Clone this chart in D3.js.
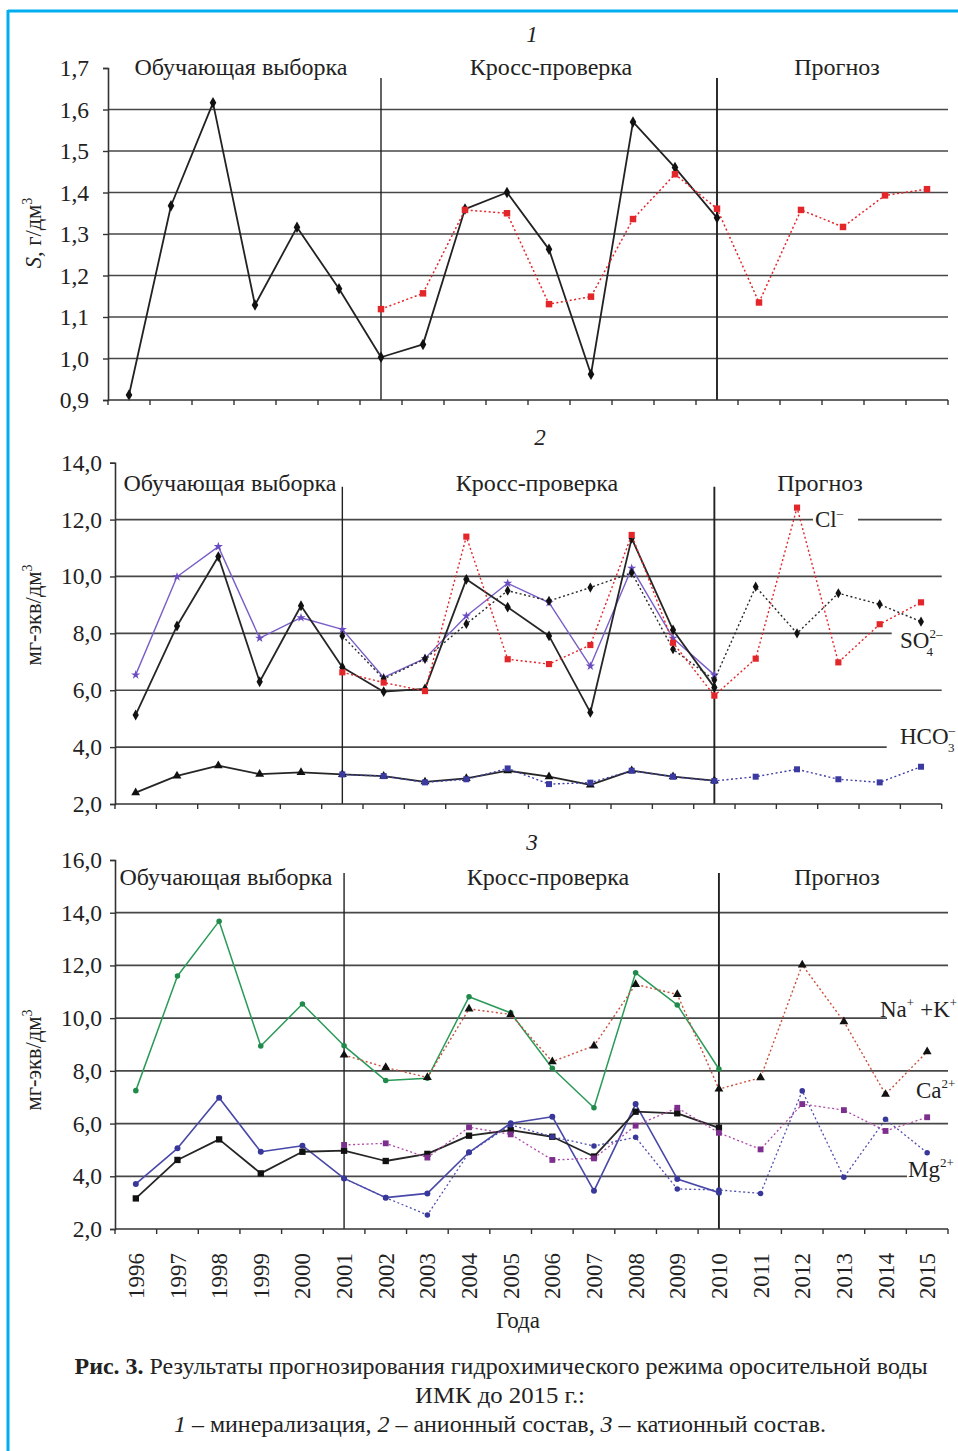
<!DOCTYPE html>
<html>
<head>
<meta charset="utf-8">
<script src="https://cdn.jsdelivr.net/npm/d3@7"></script>
<style>
  html, body { margin: 0; padding: 0; background: #fff; }
  svg { display: block; font-family: "Liberation Serif", "Times New Roman", serif; }
</style>
</head>
<body>
<svg id="chart" width="958" height="1451"></svg>
<script>
const years = ['1996', '1997', '1998', '1999', '2000', '2001', '2002', '2003', '2004', '2005',
  '2006', '2007', '2008', '2009', '2010', '2011', '2012', '2013', '2014', '2015']

const sections = ['Обучающая выборка', 'Кросс-проверка', 'Прогноз']

// 1 – минерализация, г/дм3
const sTicks = [0.9, 1.0, 1.1, 1.2, 1.3, 1.4, 1.5, 1.6, 1.7]
const sActual = [0.912, 1.368, 1.616, 1.129, 1.316, 1.168, 1.003, 1.034, 1.36, 1.40,
  1.263, 0.962, 1.57, 1.46, 1.339, null, null, null, null, null]
const sForecast = [null, null, null, null, null, null, 1.119, 1.157, 1.358, 1.35,
  1.131, 1.149, 1.336, 1.444, 1.361, 1.135, 1.358, 1.317, 1.393, 1.408]

// 2 – анионный состав, мг-экв/дм3
const anionTicks = [2, 4, 6, 8, 10, 12, 14]
const clActual = [5.13, 8.26, 10.70, 6.30, 8.97, 6.81, 5.95, 6.05, 9.90, 8.92,
  7.91, 5.22, 11.34, 8.12, 6.10, null, null, null, null, null]
const clForecast = [null, null, null, null, null, 6.63, 6.27, 5.97, 11.40, 7.09,
  6.92, 7.59, 11.46, 7.67, 5.81, 7.11, 12.42, 6.98, 8.32, 9.09]
const so4Actual = [6.54, 9.99, 11.05, 7.83, 8.55, 8.14, 6.45, 7.12, 8.61, 9.76,
  9.08, 6.85, 10.29, 7.83, 6.54, null, null, null, null, null]
const so4Forecast = [null, null, null, null, null, 7.91, 6.40, 7.10, 8.33, 9.50,
  9.14, 9.61, 10.13, 7.44, 6.36, 9.64, 8.00, 9.41, 9.02, 8.41]
const hco3Actual = [2.40, 2.99, 3.35, 3.05, 3.11, 3.04, 2.98, 2.78, 2.90, 3.17,
  2.96, 2.67, 3.17, 2.96, 2.82, null, null, null, null, null]
const hco3Forecast = [null, null, null, null, null, 3.04, 2.98, 2.76, 2.87, 3.25,
  2.70, 2.75, 3.17, 2.96, 2.81, 2.96, 3.22, 2.87, 2.76, 3.31]

// 3 – катионный состав, мг-экв/дм3
const cationTicks = [2, 4, 6, 8, 10, 12, 14, 16]
const nakActual = [7.25, 11.60, 13.68, 8.94, 10.54, 8.95, 7.63, 7.72, 10.81, 10.20,
  8.10, 6.60, 11.72, 10.50, 8.07, null, null, null, null, null]
const nakForecast = [null, null, null, null, null, 8.60, 8.13, 7.75, 10.35, 10.14,
  8.35, 8.95, 11.28, 10.90, 7.31, 7.74, 12.02, 9.87, 7.11, 8.73]
const caActual = [3.16, 4.62, 5.40, 4.11, 4.93, 4.97, 4.58, 4.85, 5.54, 5.75,
  5.50, 4.75, 6.45, 6.39, 5.84, null, null, null, null, null]
const caForecast = [null, null, null, null, null, 5.19, 5.25, 4.71, 5.86, 5.59,
  4.62, 4.68, 5.92, 6.60, 5.65, 5.02, 6.74, 6.51, 5.72, 6.24]
const mgActual = [3.71, 5.06, 6.98, 4.93, 5.16, 3.92, 3.19, 3.35, 4.91, 6.01,
  6.26, 3.45, 6.74, 3.90, 3.38, null, null, null, null, null]
const mgForecast = [null, null, null, null, null, 3.92, 3.19, 2.53, 4.90, 5.95,
  5.50, 5.15, 5.48, 3.52, 3.48, 3.35, 7.24, 3.96, 6.16, 4.89]

const svg = d3.select('#chart')
const GRID = '#474747'
const INK = '#222'
const fmt = v => d3.format('.1f')(v).replace('.', ',')

// frame of the journal page (top and left only)
svg.append('line').attr('x1', 8).attr('x2', 958).attr('y1', 11).attr('y2', 11)
  .attr('stroke', '#00aeef').attr('stroke-width', 3)
svg.append('line').attr('x1', 8).attr('x2', 8).attr('y1', 10).attr('y2', 1451)
  .attr('stroke', '#00aeef').attr('stroke-width', 3)

const panels = [
  {
    num: '1', titleX: 532, x0: 108, x1: 948, yTop: 68, yBot: 400, ticks: sTicks, tickPad: 14,
    grid: [{ v: 1.0 }, { v: 1.1 }, { v: 1.2 }, { v: 1.3 }, { v: 1.4 }, { v: 1.5 }, { v: 1.6 }],
    dividers: ['2002', '2010'], divTop: 78,
    titleY: 42, secY: 75, secX: [241, 551, 837],
    yLabel: 's', yLabelY: 233,
    series: [
      { data: sActual, color: '#222', width: 1.8, symbol: d3.symbolDiamond, size: 38, fill: '#111' },
      { data: sForecast, color: '#e3262a', width: 1.5, dash: '2,2.5', symbol: d3.symbolSquare, size: 42, fill: '#e3262a' }
    ],
    labels: []
  },
  {
    num: '2', titleX: 540, x0: 115, x1: 941.7, yTop: 462.7, yBot: 804, ticks: anionTicks, tickPad: 8,
    grid: [
      { v: 12, segs: [[115, 813], [858, 941.7]] },
      { v: 10 }, { v: 8, segs: [[115, 891.7]] }, { v: 6 }, { v: 4, segs: [[115, 886.7]] }
    ],
    dividers: ['2001', '2010'], divTop: 486.7,
    titleY: 445, secY: 491, secX: [230, 537, 820],
    yLabel: 'mg', yLabelY: 615,
    series: [
      { data: so4Actual, color: '#7a5ec8', width: 1.4, symbol: d3.symbolStar, size: 26, fill: '#6a4cc0' },
      { data: clActual, color: '#262626', width: 1.8, symbol: d3.symbolDiamond, size: 34, fill: '#111' },
      { data: so4Forecast, color: '#2a2a2a', width: 1.4, dash: '2,2.5', symbol: d3.symbolDiamond, size: 30, fill: '#111' },
      { data: clForecast, color: '#e3262a', width: 1.4, dash: '2,2.5', symbol: d3.symbolSquare, size: 38, fill: '#e3262a' },
      { data: hco3Actual, color: '#262626', width: 1.8, symbol: d3.symbolTriangle, size: 34, fill: '#111' },
      { data: hco3Forecast, color: '#4040a8', width: 1.4, dash: '2,2.5', symbol: d3.symbolSquare, size: 36, fill: '#3a3aa0' }
    ],
    labels: [
      { x: 815, y: 527, parts: [['Cl'], ['–', 'sup']] },
      { x: 900, y: 648, parts: [['SO'], ['2–', 'sup'], ['4', 'sub', -16]] },
      { x: 900, y: 744, parts: [['HCO'], ['–', 'sup'], ['3', 'sub', -7]] }
    ]
  },
  {
    num: '3', titleX: 532, x0: 115, x1: 948, yTop: 860, yBot: 1229, ticks: cationTicks, tickPad: 8,
    grid: [
      { v: 14 }, { v: 12 }, { v: 10, segs: [[115, 887]] }, { v: 8 }, { v: 6 }, { v: 4, segs: [[115, 907]] }
    ],
    dividers: ['2001', '2010'], divTop: 873,
    titleY: 850, secY: 885, secX: [226, 548, 837],
    yLabel: 'mg', yLabelY: 1060,
    series: [
      { data: nakActual, color: '#2a9a58', width: 1.5, symbol: d3.symbolCircle, size: 24, fill: '#1f8a4a' },
      { data: nakForecast, color: '#c8503c', width: 1.4, dash: '2,2.5', symbol: d3.symbolTriangle, size: 34, fill: '#111' },
      { data: mgActual, color: '#4848a8', width: 1.6, symbol: d3.symbolCircle, size: 28, fill: '#38389a' },
      { data: caActual, color: '#262626', width: 1.8, symbol: d3.symbolSquare, size: 40, fill: '#111' },
      { data: caForecast, color: '#b04aa8', width: 1.3, dash: '2,2.5', symbol: d3.symbolSquare, size: 34, fill: '#7d2f8e' },
      { data: mgForecast, color: '#5050b0', width: 1.3, dash: '2,2.5', symbol: d3.symbolCircle, size: 24, fill: '#38389a' }
    ],
    labels: [
      { x: 880, y: 1017, parts: [['Na'], ['+', 'sup'], ['+K', null, 6], ['+', 'sup']] },
      { x: 916, y: 1098, parts: [['Ca'], ['2+', 'sup']] },
      { x: 908, y: 1177, parts: [['Mg'], ['2+', 'sup']] }
    ]
  }
]

function drawPanel(p) {
  const g = svg.append('g')
  const x = d3.scaleBand().domain(years).range([p.x0, p.x1]).padding(0)
  const cx = d => x(d) + x.bandwidth() / 2
  const y = d3.scaleLinear().domain(d3.extent(p.ticks)).range([p.yBot, p.yTop])

  // gridlines
  for (const gl of p.grid) {
    const segs = gl.segs || [[p.x0, p.x1]]
    for (const [a, b] of segs) {
      g.append('line').attr('x1', a).attr('x2', b).attr('y1', y(gl.v)).attr('y2', y(gl.v))
        .attr('stroke', GRID).attr('stroke-width', 1.7)
    }
  }

  // section dividers
  p.dividers.forEach((yr, i) => {
    g.append('line').attr('x1', cx(yr)).attr('x2', cx(yr)).attr('y1', p.divTop).attr('y2', p.yBot)
      .attr('stroke', '#222').attr('stroke-width', i === 0 ? 1.4 : 1.9)
  })

  // series
  for (const s of p.series) {
    const pts = years.map((yr, i) => ({ yr, v: s.data[i] }))
    const line = d3.line().defined(d => d.v != null).x(d => cx(d.yr)).y(d => y(d.v))
    g.append('path').attr('d', line(pts)).attr('fill', 'none')
      .attr('stroke', s.color).attr('stroke-width', s.width)
      .attr('stroke-dasharray', s.dash || null).attr('stroke-linejoin', 'round')
    g.append('g').selectAll('path').data(pts.filter(d => d.v != null)).enter().append('path')
      .attr('d', d3.symbol().type(s.symbol).size(s.size))
      .attr('transform', d => `translate(${cx(d.yr)},${y(d.v)})`)
      .attr('fill', s.fill)
  }

  // axes
  const yAxis = d3.axisLeft(y).tickValues(p.ticks).tickFormat(fmt).tickSize(5).tickPadding(p.tickPad)
  const ya = g.append('g').attr('transform', `translate(${p.x0},0)`).call(yAxis)
  ya.select('.domain').attr('stroke', '#333').attr('stroke-width', 1.6)
  ya.selectAll('.tick line').attr('stroke', '#333').attr('stroke-width', 1.4)
  ya.selectAll('.tick text').attr('font-size', 23.5).attr('fill', INK)
    .attr('font-family', '"Liberation Serif", "Times New Roman", serif')

  g.append('line').attr('x1', p.x0).attr('x2', p.x1).attr('y1', p.yBot).attr('y2', p.yBot)
    .attr('stroke', '#333').attr('stroke-width', 1.6)
  const edges = years.map(yr => x(yr)).concat([p.x1])
  g.append('g').selectAll('line').data(edges).enter().append('line')
    .attr('x1', d => d).attr('x2', d => d).attr('y1', p.yBot).attr('y2', p.yBot + 5)
    .attr('stroke', '#333').attr('stroke-width', 1.4)

  // titles
  g.append('text').attr('x', p.titleX).attr('y', p.titleY).attr('text-anchor', 'middle')
    .attr('font-size', 23).attr('font-style', 'italic').attr('fill', INK).text(p.num)
  sections.forEach((t, i) => {
    g.append('text').attr('x', p.secX[i]).attr('y', p.secY).attr('text-anchor', 'middle')
      .attr('font-size', 24).attr('fill', INK).text(t)
  })

  // y label
  const yl = g.append('text').attr('transform', `translate(41,${p.yLabelY}) rotate(-90)`)
    .attr('text-anchor', 'middle').attr('font-size', 22.5).attr('fill', INK)
  if (p.yLabel === 's') {
    yl.append('tspan').attr('font-style', 'italic').text('S')
    yl.append('tspan').text(', г/дм')
  } else {
    yl.append('tspan').text('мг-экв/дм')
  }
  yl.append('tspan').attr('font-size', 14).attr('baseline-shift', 9).text('3')

  // series labels
  for (const lb of p.labels) {
    const t = g.append('text').attr('x', lb.x).attr('y', lb.y).attr('font-size', 23).attr('fill', INK)
    for (const [str, kind, dx] of lb.parts) {
      const ts = t.append('tspan').text(str)
      if (dx) ts.attr('dx', dx)
      if (kind === 'sup') ts.attr('font-size', 13).attr('baseline-shift', 10)
      if (kind === 'sub') ts.attr('font-size', 13).attr('baseline-shift', -8)
    }
  }

  return x
}

let lastX
for (const p of panels) lastX = drawPanel(p)

// year labels under the last panel
svg.append('g').selectAll('text').data(years).enter().append('text')
  .attr('transform', d => `translate(${lastX(d) + lastX.bandwidth() / 2},1253) rotate(-90)`)
  .attr('text-anchor', 'end').attr('dy', '0.35em').attr('font-size', 23).attr('fill', INK)
  .text(d => d)

svg.append('text').attr('x', 518).attr('y', 1328).attr('text-anchor', 'middle')
  .attr('font-size', 23).attr('fill', INK).text('Года')

// caption
const c1 = svg.append('text').attr('x', 501).attr('y', 1374).attr('text-anchor', 'middle')
  .attr('font-size', 23).attr('fill', INK).attr('textLength', 853).attr('lengthAdjust', 'spacingAndGlyphs')
c1.append('tspan').attr('font-weight', 'bold').text('Рис. 3.')
c1.append('tspan').text(' Результаты прогнозирования гидрохимического режима оросительной воды')

svg.append('text').attr('x', 500).attr('y', 1403).attr('text-anchor', 'middle')
  .attr('font-size', 23).attr('fill', INK).attr('textLength', 170).attr('lengthAdjust', 'spacingAndGlyphs')
  .text('ИМК до 2015 г.:')

const c3 = svg.append('text').attr('x', 500).attr('y', 1432).attr('text-anchor', 'middle')
  .attr('font-size', 23).attr('fill', INK).attr('textLength', 652).attr('lengthAdjust', 'spacingAndGlyphs')
c3.append('tspan').attr('font-style', 'italic').text('1')
c3.append('tspan').text(' – минерализация, ')
c3.append('tspan').attr('font-style', 'italic').text('2')
c3.append('tspan').text(' – анионный состав, ')
c3.append('tspan').attr('font-style', 'italic').text('3')
c3.append('tspan').text(' – катионный состав.')
</script>
</body>
</html>
